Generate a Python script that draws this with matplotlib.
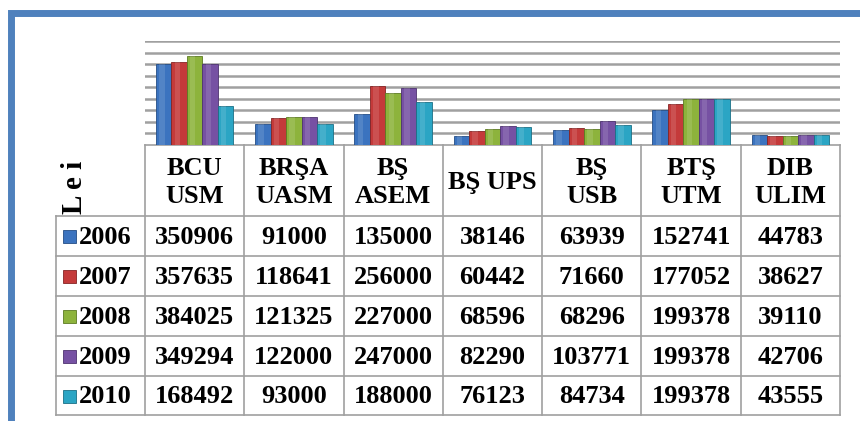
import numpy as np
import matplotlib.pyplot as plt
from matplotlib.patches import Rectangle

# data
institutions = ['BCU\nUSM', 'BRŞA\nUASM', 'BŞ\nASEM', 'BŞ UPS', 'BŞ\nUSB', 'BTŞ\nUTM', 'DIB\nULIM']
years = ['2006', '2007', '2008', '2009', '2010']
v2006 = [350906, 91000, 135000, 38146, 63939, 152741, 44783]
v2007 = [357635, 118641, 256000, 60442, 71660, 177052, 38627]
v2008 = [384025, 121325, 227000, 68596, 68296, 199378, 39110]
v2009 = [349294, 122000, 247000, 82290, 103771, 199378, 42706]
v2010 = [168492, 93000, 188000, 76123, 84734, 199378, 43555]
series = [v2006, v2007, v2008, v2009, v2010]
colors = ['#3b73bf', '#c43a3a', '#8db33c', '#7651a3', '#2ba5c4']
edges = ['#244d85', '#862424', '#5c7a22', '#4e3370', '#1b6f85']

W, H = 860, 421
fig = plt.figure(figsize=(W / 100, H / 100), dpi=100)

# overlay in pixel coordinates for the frame and the data table
ov = fig.add_axes([0, 0, 1, 1])
ov.set_xlim(0, W)
ov.set_ylim(H, 0)
ov.axis('off')

# blue frame
ov.plot([10.5, 10.5, W], [H, 12.5, 12.5], color='#4f81bd', lw=5, solid_joinstyle='miter')

# plot area
x0, x1 = 145, 840
ytop, ybase = 41, 145
ax = fig.add_axes([x0 / W, 1 - ybase / H, (x1 - x0) / W, (ybase - ytop) / H])
ax.set_xlim(0, len(institutions))
ax.set_ylim(0, 450000)
ax.set_yticks(np.arange(50000, 450001, 50000))
ax.set_xticks([])
ax.tick_params(left=False, labelleft=False)
ax.grid(axis='y', color='#a0a0a0', lw=1.8)
ax.set_axisbelow(True)
for s in ax.spines.values():
    s.set_visible(False)
ax.patch.set_alpha(0)

n = len(series)
bw = 0.156
x = np.arange(len(institutions)) + 0.5
for i, vals in enumerate(series):
    pos = x + (i - (n - 1) / 2) * bw
    ax.bar(pos, vals, width=bw, color=colors[i], edgecolor=edges[i], lw=0.6, zorder=3)
    # soft highlight to hint at the bevelled look
    ax.bar(pos - bw * 0.12, vals, width=bw * 0.35, color='white', alpha=0.12, lw=0, zorder=4)

# data table
col_edges = np.linspace(x0, x1, len(institutions) + 1)
row_edges = [145, 216, 256, 296, 336, 376, 415]
leg_left = 56
lc = '#a0a0a0'
font = dict(family='Liberation Serif', weight='bold', size=19, color='black')

ov.plot([x0, x1], [row_edges[0], row_edges[0]], color=lc, lw=1.2)
for r in row_edges[1:]:
    ov.plot([leg_left, x1], [r, r], color=lc, lw=1.2)
ov.plot([leg_left, leg_left], [row_edges[1], row_edges[-1]], color=lc, lw=1.2)
for c in col_edges:
    ov.plot([c, c], [row_edges[0], row_edges[-1]], color=lc, lw=1.2)

for j, name in enumerate(institutions):
    cx = (col_edges[j] + col_edges[j + 1]) / 2
    ov.text(cx, (row_edges[0] + row_edges[1]) / 2 + 2, name, ha='center', va='center',
            linespacing=1.3, **font)

for i, vals in enumerate(series):
    cy = (row_edges[i + 1] + row_edges[i + 2]) / 2 + 1
    ov.add_patch(Rectangle((63, cy - 7), 13, 13, facecolor=colors[i], edgecolor=edges[i], lw=0.6))
    ov.text(79, cy, years[i], ha='left', va='center', **font)
    for j, v in enumerate(vals):
        cx = (col_edges[j] + col_edges[j + 1]) / 2
        ov.text(cx, cy, str(v), ha='center', va='center', **font)

ov.text(74, 187, 'L e i', rotation=90, ha='center', va='center',
        **{**font, 'size': 21})

fig.savefig('out.png', dpi=100)
